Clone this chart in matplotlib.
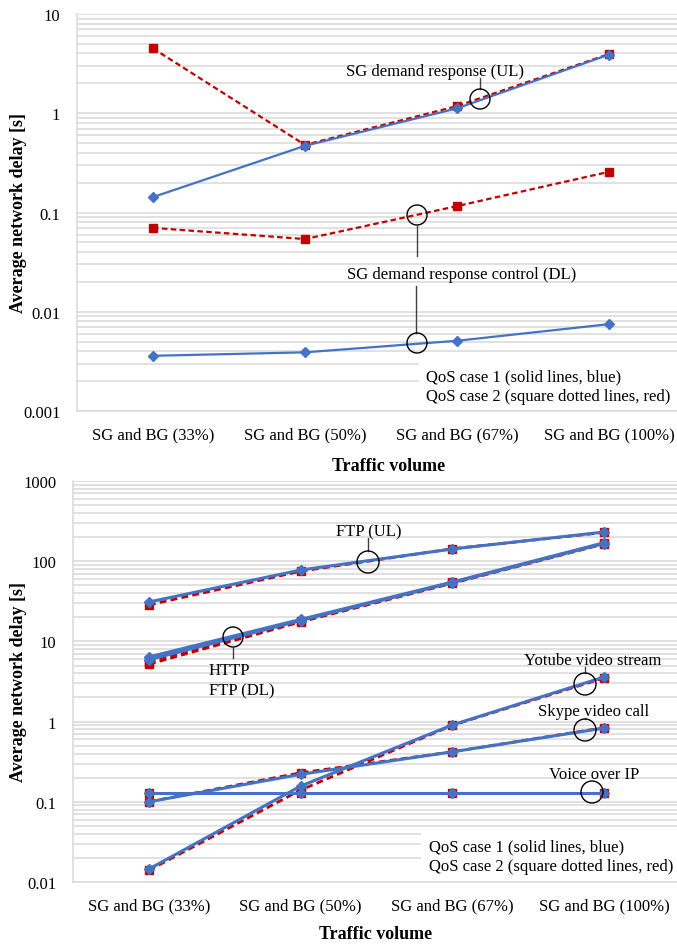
import matplotlib
matplotlib.use("Agg")
import matplotlib.pyplot as plt
from matplotlib.ticker import LogLocator, NullFormatter, FixedLocator, FixedFormatter
from matplotlib.patches import Ellipse, Rectangle
from matplotlib.lines import Line2D

plt.rcParams['font.family'] = ['Liberation Serif', 'DejaVu Serif']

W, H = 677, 945

cats = ['SG and BG (33%)', 'SG and BG (50%)', 'SG and BG (67%)', 'SG and BG (100%)']

# top chart: smart grid demand response
ul_q1 = [0.143, 0.47, 1.12, 3.9]
ul_q2 = [4.5, 0.48, 1.18, 3.95]
dl_q1 = [0.0036, 0.0039, 0.0051, 0.0075]
dl_q2 = [0.070, 0.054, 0.116, 0.257]

# bottom chart: background traffic
ftp_ul_q1 = [31, 77.6, 142, 231]
ftp_ul_q2 = [28.5, 75, 143, 228]
http_q1 = [6.4, 18.8, 55, 170]
http_q2 = [5.5, 18, 54.5, 168]
ftp_dl_q1 = [5.9, 18.2, 54, 166]
ftp_dl_q2 = [5.2, 17.5, 53, 164]
yt_q1 = [0.0145, 0.157, 0.91, 3.6]
yt_q2 = [0.014, 0.14, 0.90, 3.5]
skype_q1 = [0.1, 0.22, 0.42, 0.83]
skype_q2 = [0.1, 0.23, 0.42, 0.84]
voip_q1 = [0.13, 0.13, 0.13, 0.13]
voip_q2 = [0.13, 0.13, 0.13, 0.13]

top_ticks = [0.001, 0.01, 0.1, 1, 10]
top_labels = ['0.001', '0.01', '0.1', '1', '10']
bot_ticks = [0.01, 0.1, 1, 10, 100, 1000]
bot_labels = ['0.01', '0.1', '1', '10', '100', '1000']

BLUE = '#4472C4'
RED = '#C00000'
GRID = '#d9d9d9'

fig = plt.figure(figsize=(W / 100, H / 100), dpi=100)


def fx(x):
    return x / W


def fy(y):
    return 1 - y / H


def make_axes(left, right, top, bottom, ticks, labels):
    ax = fig.add_axes([fx(left), fy(bottom), fx(right - left), (bottom - top) / H])
    ax.set_yscale('log')
    ax.set_ylim(ticks[0], ticks[-1])
    ax.set_xlim(-0.5, len(cats) - 0.5)
    ax.yaxis.set_major_locator(FixedLocator(ticks))
    ax.yaxis.set_major_formatter(FixedFormatter(labels))
    ax.yaxis.set_minor_locator(LogLocator(base=10, subs=range(2, 10), numticks=20))
    ax.yaxis.set_minor_formatter(NullFormatter())
    ax.set_xticks(range(len(cats)))
    ax.set_xticklabels(cats)
    ax.tick_params(which='both', length=0, labelsize=12, colors='black')
    ax.tick_params(axis='y', pad=12)
    ax.tick_params(axis='x', pad=11)
    ax.grid(True, which='both', axis='y', color=GRID, lw=1.1)
    ax.set_axisbelow(True)
    for s in ['top', 'right']:
        ax.spines[s].set_visible(False)
    for s in ['left', 'bottom']:
        ax.spines[s].set_color(GRID)
        ax.spines[s].set_linewidth(1.1)
    return ax


def pair(ax, q1, q2, lw_b, lw_r):
    x = range(len(cats))
    ax.plot(x, q2, color=RED, lw=lw_r, ls=(0, (2.5, 1.5)), marker='s', ms=5.5, zorder=3)
    ax.plot(x, q1, color=BLUE, lw=lw_b, marker='D', ms=5.5, zorder=4)


def circle(cx, cy, r=11):
    fig.add_artist(Ellipse((fx(cx), fy(cy)), 2 * r / W, 2 * r / H, transform=fig.transFigure,
                           fill=False, ec='black', lw=1.0, zorder=10))


def vline(x, y0, y1):
    fig.add_artist(Line2D([fx(x), fx(x)], [fy(y0), fy(y1)], transform=fig.transFigure,
                          color='#404040', lw=1.0, zorder=10))


def label(x, y, s, ha='center'):
    fig.text(fx(x), fy(y), s, ha=ha, va='center', fontsize=12, zorder=11)


def qos_box(ax, x0, y0, x1, y1, ty1, ty2, tx):
    ax.add_patch(Rectangle((fx(x0), fy(y1)), fx(x1 - x0), (y1 - y0) / H, transform=fig.transFigure,
                           facecolor='white', edgecolor='none', zorder=1))
    label(tx, ty1, 'QoS case 1 (solid lines, blue)', ha='left')
    label(tx, ty2, 'QoS case 2 (square dotted lines, red)', ha='left')


# ---- top chart
ax1 = make_axes(77, 685, 15, 412, top_ticks, top_labels)
pair(ax1, dl_q1, dl_q2, 1.6, 1.6)
pair(ax1, ul_q1, ul_q2, 1.6, 1.6)
qos_box(ax1, 419, 358, 690, 411, 377, 397, 426)

label(435, 72, 'SG demand response (UL)')
vline(480, 79, 90)
circle(480, 100, 10)
circle(417, 216, 10)
vline(417, 226, 257)
label(462, 275, 'SG demand response control (DL)')
vline(416, 287, 334)
circle(417, 344, 10)

fig.text(fx(19), fy(213), 'Average network delay [s]', rotation=90, ha='center', va='center',
         fontsize=13, fontweight='bold')
fig.text(fx(389), fy(467), 'Traffic volume', ha='center', va='center', fontsize=13, fontweight='bold')

# ---- bottom chart
ax2 = make_axes(73, 680, 482, 883, bot_ticks, bot_labels)
for q1, q2 in [(voip_q1, voip_q2), (skype_q1, skype_q2), (yt_q1, yt_q2),
               (ftp_dl_q1, ftp_dl_q2), (http_q1, http_q2), (ftp_ul_q1, ftp_ul_q2)]:
    pair(ax2, q1, q2, 2.2, 2.0)
qos_box(ax2, 421, 831, 690, 882, 847, 867, 429)

label(369, 532, 'FTP (UL)')
vline(368, 539, 552)
circle(368, 563)
circle(233, 638, 10)
vline(233, 648, 659)
label(209, 671, 'HTTP', ha='left')
label(209, 691, 'FTP (DL)', ha='left')
label(593, 661, 'Yotube video stream')
vline(585, 668, 674)
circle(585, 685)
label(594, 712, 'Skype video call')
vline(585, 719, 720)
circle(585, 731)
label(594, 775, 'Voice over IP')
vline(592, 782, 782)
circle(592, 793)

fig.text(fx(19), fy(682), 'Average network delay [s]', rotation=90, ha='center', va='center',
         fontsize=13, fontweight='bold')
fig.text(fx(376), fy(935), 'Traffic volume', ha='center', va='center', fontsize=13, fontweight='bold')

fig.savefig('out.png', dpi=100)
